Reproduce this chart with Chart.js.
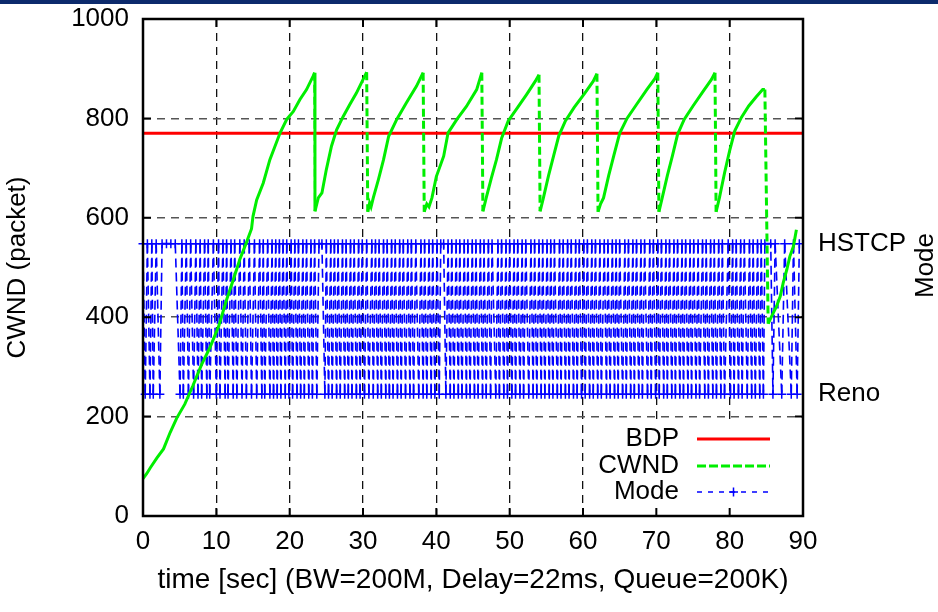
<!DOCTYPE html>
<html>
<head>
<meta charset="utf-8">
<script src="https://cdn.jsdelivr.net/npm/chart.js@4.4.1/dist/chart.umd.min.js"></script>
<style>
html, body { margin: 0; padding: 0; background: #fff; }
#wrap { width: 938px; height: 612px; }
</style>
</head>
<body>
<div id="wrap"><canvas id="chart" width="938" height="612"></canvas></div>
<script>
// time axis (sec) and tick steps
const xMin = 0, xMax = 90, xStep = 10;
const yMin = 0, yMax = 1000, yStep = 200;

// BDP (packets)
const bdpValue = 770;

// CWND samples (sec, packets)
const cwndTime = [
  0.0, 0.5, 1.0, 1.9, 2.8, 3.7, 4.6, 5.7, 6.8, 8.0, 9.1, 10.3, 11.4, 12.3, 13.2, 14.1, 14.8, 15.0, 15.5, 16.4,
  17.3, 18.7, 19.6, 20.5, 21.4, 22.3, 23.2, 23.4,
  23.45, 23.9, 24.4, 25.0, 25.7, 26.4, 27.3, 28.2, 29.1, 30.0, 30.5,
  30.65, 30.9, 31.1, 31.4, 32.1, 32.8, 33.5, 34.6, 35.9, 37.3, 38.2,
  38.35, 38.7, 39.0, 39.4, 40.0, 41.0, 41.6, 42.8, 44.1, 45.5, 46.2,
  46.35, 46.8, 47.5, 48.2, 48.9, 49.8, 51.0, 52.3, 53.5, 54.0,
  54.15, 54.6, 55.3, 56.0, 56.7, 57.6, 58.8, 60.2, 61.4, 61.9,
  62.05, 62.4, 62.8, 63.5, 64.2, 65.0, 66.0, 67.3, 68.7, 69.8, 70.2,
  70.35, 70.8, 71.5, 72.2, 72.9, 73.8, 75.0, 76.4, 77.5, 78.0,
  78.15, 78.6, 79.3, 80.0, 80.7, 81.6, 82.6, 83.6, 84.5, 84.8,
  85.25, 85.7, 86.4, 86.9, 87.3, 87.8, 88.2, 88.7, 89.1
];
const cwndValue = [
  75, 85, 97, 117, 135, 168, 197, 225, 262, 305, 338, 381, 435, 475, 516, 550, 578, 603, 636, 670,
  717, 771, 798, 814, 838, 858, 885, 892,
  613, 640, 650, 697, 744, 777, 804, 828, 851, 878, 893,
  612, 630, 622, 640, 677, 717, 764, 798, 831, 865, 892,
  612, 628, 622, 640, 683, 724, 771, 798, 824, 858, 892,
  613, 640, 680, 717, 760, 795, 820, 848, 875, 888,
  613, 640, 685, 725, 765, 795, 822, 850, 875, 890,
  612, 628, 640, 685, 725, 770, 800, 828, 858, 880, 892,
  612, 640, 685, 725, 768, 798, 825, 855, 878, 892,
  612, 640, 690, 735, 775, 802, 825, 843, 858, 858,
  387, 401, 422, 442, 469, 496, 522, 543, 576
];

// congestion control mode samples: 1 = HSTCP, 0 = Reno
const modeLabels = ['Reno', 'HSTCP'];
const modeLevels = [245, 548]; // where Reno / HSTCP sit on the CWND scale
const modeTime = [
  0.0, 0.3, 0.6, 0.95, 1.2, 1.4, 1.8, 2.3, 2.6, 3.2, 3.8, 4.4, 5.05, 5.3, 5.5, 5.9, 6.2, 6.5, 6.9, 7.2,
  7.5, 7.8, 8.0, 8.4, 8.7, 8.9, 9.1, 9.6, 10.0, 10.3, 10.5, 10.9, 11.2, 11.4, 11.6, 12.0, 12.3, 12.5, 12.8, 13.2,
  13.5, 13.8, 14.1, 14.5, 14.8, 15.2, 15.5, 15.9, 16.2, 16.4, 16.6, 17.0, 17.3, 17.6, 17.8,
  18.1, 18.3, 18.6, 18.8, 19.1, 19.4, 19.6, 19.9, 20.2, 20.4, 20.7, 21.0, 21.2, 21.5, 21.8, 22.0, 22.3, 22.6, 22.9, 23.1,
  23.4, 23.7, 24.0, 24.4, 24.8, 25.0, 25.3, 25.6, 25.8, 26.1, 26.4, 26.6, 26.9, 27.2, 27.5, 27.7, 28.0, 28.3, 28.5, 28.8,
  29.1, 29.4, 29.6, 29.9, 30.2, 30.5, 30.8, 31.2, 31.4, 31.7, 32.0, 32.2, 32.5, 32.8, 33.1, 33.3, 33.6, 33.9, 34.1, 34.4,
  34.7, 35.0, 35.2, 35.5, 35.8,
  36.1, 36.4, 36.6, 36.9, 37.2, 37.6, 37.9, 38.2, 38.4, 38.7, 39.0, 39.3, 39.5, 39.8, 40.1, 40.4, 40.6, 41.0, 41.3, 41.6,
  41.9, 42.1, 42.4, 42.7, 43.0, 43.2, 43.5, 43.8, 44.1, 44.3, 44.6, 44.9, 45.2, 45.4, 45.7, 46.0, 46.3, 46.5, 46.8, 47.1,
  47.4, 47.6, 48.1, 48.4, 48.6, 48.9, 49.2, 49.5, 49.7, 50.0, 50.3, 50.6, 50.8, 51.1, 51.4, 51.7, 51.9, 52.2, 52.6, 52.9,
  53.2, 53.4, 53.7,
  54.0, 54.3, 54.5, 54.8, 55.1, 55.4, 55.6, 55.9, 56.1, 56.5, 56.8, 57.0, 57.3, 57.6, 57.9, 58.1, 58.4, 58.7, 59.0, 59.2,
  59.5, 59.8, 60.1, 60.3, 60.6, 60.9, 61.2, 61.4, 61.7, 62.0, 62.3, 62.5, 62.9, 63.2, 63.4, 63.7, 64.0, 64.3, 64.5, 64.8,
  65.0, 65.4, 65.7, 65.9, 66.2, 66.5, 66.8, 67.0, 67.3, 67.6, 67.9, 68.1, 68.4, 68.8, 69.1, 69.3, 69.6, 69.9, 70.2, 70.4,
  70.7, 71.0, 71.3, 71.5, 71.8,
  72.1, 72.4, 72.6, 72.9, 73.2, 73.5, 73.7, 74.0, 74.3, 74.6, 74.8, 75.1, 75.4, 75.7, 75.9, 76.3, 76.6, 76.8, 77.1, 77.4,
  77.7, 77.9, 78.2, 78.5, 78.8, 79.0, 79.3, 79.8, 80.1, 80.4, 80.6, 80.9, 81.2, 81.5, 81.7, 82.0, 82.4, 82.7, 83.0, 83.2,
  83.5, 83.8, 84.1, 84.3, 84.6, 84.8, 85.6, 85.9, 86.2, 87.1, 87.5, 88.4, 88.7, 89.2, 89.5
];
const modeValue = [
  1, 0, 1, 0, 1, 0, 1, 0, 1, 1, 1, 1, 0, 1, 0, 1, 0, 1, 0, 1,
  0, 1, 0, 1, 0, 1, 0, 1, 0, 1, 0, 1, 0, 1, 0, 1, 0, 1, 0, 1,
  0, 1, 0, 1, 0, 1, 0, 1, 0, 1, 0, 1, 0, 1, 0,
  1, 0, 1, 0, 1, 0, 1, 0, 1, 0, 1, 0, 1, 0, 1, 0, 1, 0, 1, 0,
  1, 0, 1, 1, 0, 1, 0, 1, 0, 1, 0, 1, 0, 1, 0, 1, 0, 1, 0, 1,
  0, 1, 0, 1, 0, 1, 0, 1, 0, 1, 0, 1, 0, 1, 0, 1, 0, 1, 0, 1,
  0, 1, 0, 1, 0,
  1, 0, 1, 0, 1, 0, 1, 0, 1, 0, 1, 0, 1, 0, 1, 0, 1, 1, 0, 1,
  0, 1, 0, 1, 0, 1, 0, 1, 0, 1, 0, 1, 0, 1, 0, 1, 0, 1, 0, 1,
  0, 1, 0, 1, 0, 1, 0, 1, 0, 1, 0, 1, 0, 1, 0, 1, 0, 1, 0, 1,
  0, 1, 0,
  1, 0, 1, 0, 1, 0, 1, 0, 1, 0, 1, 0, 1, 0, 1, 0, 1, 0, 1, 0,
  1, 0, 1, 0, 1, 0, 1, 0, 1, 0, 1, 0, 1, 0, 1, 0, 1, 0, 1, 0,
  1, 0, 1, 0, 1, 0, 1, 0, 1, 0, 1, 0, 1, 0, 1, 0, 1, 0, 1, 0,
  1, 0, 1, 0, 1,
  0, 1, 0, 1, 0, 1, 0, 1, 0, 1, 0, 1, 0, 1, 0, 1, 0, 1, 0, 1,
  0, 1, 0, 1, 0, 1, 0, 1, 0, 1, 0, 1, 0, 1, 0, 1, 0, 1, 0, 1,
  0, 1, 0, 1, 0, 1, 1, 0, 1, 0, 1, 0, 1, 0, 1
];

const legendLabels = ['BDP', 'CWND', 'Mode'];
const xTitle = 'time [sec] (BW=200M, Delay=22ms, Queue=200K)';
const yTitle = 'CWND (packet)';
const y2Title = 'Mode';

const FONT = '"Liberation Sans", Arial, Helvetica, sans-serif';
const RED = '#ff0000', GREEN = '#00ee00', BLUE = '#0000ff';

Chart.defaults.font.family = FONT;
Chart.defaults.color = '#000';

// y2 range so that 0 / 1 land on the Reno / HSTCP levels of the left scale
const unit = (modeLevels[1] - modeLevels[0]) / (yMax - yMin);
const y2Min = -(modeLevels[0] - yMin) / (modeLevels[1] - modeLevels[0]);
const y2Max = y2Min + 1 / unit;

const cwndPoints = cwndTime.map((t, i) => ({ x: t, y: cwndValue[i] }));
const modePoints = modeTime.map((t, i) => ({ x: t, y: modeValue[i] }));
const bdpPoints = [{ x: xMin, y: bdpValue }, { x: xMax, y: bdpValue }];

// gnuplot-ish frame, inward ticks, opaque key, right-hand title, top bar
const decor = {
  id: 'decor',
  beforeDraw(chart) {
    const c = chart.ctx;
    c.save();
    c.fillStyle = '#fff';
    c.fillRect(0, 0, chart.width, chart.height);
    c.fillStyle = '#0c2a6c';
    c.fillRect(0, 0, chart.width, 4);
    c.restore();
  },
  afterDraw(chart) {
    const { ctx: c, chartArea: a, scales } = chart;
    c.save();

    // key box
    c.fillStyle = '#fff';
    c.fillRect(592, 424, a.right - 592, a.bottom - 424);
    c.font = '26px ' + FONT;
    c.fillStyle = '#000';
    c.textAlign = 'right';
    c.textBaseline = 'middle';
    const rows = [a.bottom - 77, a.bottom - 50, a.bottom - 24];
    const x0 = a.right - 106, x1 = a.right - 33, tx = a.right - 124;
    legendLabels.forEach((lab, i) => c.fillText(lab, tx, rows[i]));

    c.lineWidth = 3;
    c.strokeStyle = RED;
    c.beginPath(); c.moveTo(x0, rows[0]); c.lineTo(x1, rows[0]); c.stroke();
    c.strokeStyle = GREEN;
    c.setLineDash([9, 3]);
    c.beginPath(); c.moveTo(x0, rows[1]); c.lineTo(x1, rows[1]); c.stroke();
    c.strokeStyle = BLUE;
    c.lineWidth = 1.5;
    c.setLineDash([5, 6]);
    c.beginPath(); c.moveTo(x0, rows[2]); c.lineTo(x1, rows[2]); c.stroke();
    c.setLineDash([]);
    const mx = (x0 + x1) / 2;
    c.lineWidth = 1.5;
    c.beginPath();
    c.moveTo(mx - 4.5, rows[2]); c.lineTo(mx + 4.5, rows[2]);
    c.moveTo(mx, rows[2] - 4.5); c.lineTo(mx, rows[2] + 4.5);
    c.stroke();

    // inward ticks
    c.strokeStyle = '#000';
    c.lineWidth = 2;
    c.beginPath();
    scales.x.ticks.forEach(t => {
      const px = scales.x.getPixelForValue(t.value);
      c.moveTo(px, a.bottom); c.lineTo(px, a.bottom - 8);
      c.moveTo(px, a.top); c.lineTo(px, a.top + 8);
    });
    scales.y.ticks.forEach(t => {
      const py = scales.y.getPixelForValue(t.value);
      c.moveTo(a.left, py); c.lineTo(a.left + 8, py);
      c.moveTo(a.right, py); c.lineTo(a.right - 8, py);
    });
    c.stroke();

    // frame
    c.lineWidth = 2.5;
    c.strokeRect(a.left, a.top, a.right - a.left, a.bottom - a.top);

    // right axis title, reads bottom to top
    c.translate(926, (a.top + a.bottom) / 2 - 2);
    c.rotate(-Math.PI / 2);
    c.textAlign = 'center';
    c.fillText(y2Title, 0, 0);
    c.restore();
  }
};

const ctx = document.getElementById('chart');
const chart = new Chart(ctx, {
  type: 'line',
  data: {
    datasets: [
      {
        label: 'CWND',
        data: cwndPoints,
        yAxisID: 'y',
        borderColor: GREEN,
        borderWidth: 3,
        pointRadius: 0,
        tension: 0,
        segment: {
          borderDash: s => (s.p1.parsed.y < s.p0.parsed.y - 100 ? [8, 4] : [])
        }
      },
      {
        label: 'BDP',
        data: bdpPoints,
        yAxisID: 'y',
        borderColor: RED,
        borderWidth: 3,
        pointRadius: 0
      },
      {
        label: 'Mode',
        data: modePoints,
        yAxisID: 'y2',
        borderColor: BLUE,
        borderWidth: 1.6,
        borderDash: [9, 5],
        tension: 0,
        pointStyle: 'cross',
        pointRadius: 4.5,
        pointBorderWidth: 1.5,
        pointBorderColor: BLUE,
        clip: 8,
        segment: {
          borderDashOffset: s => (s.p1.parsed.y > s.p0.parsed.y ? 13.4 : 0)
        }
      }
    ]
  },
  options: {
    responsive: false,
    animation: false,
    devicePixelRatio: 1,
    layout: { padding: { top: 19, left: 0, right: 0, bottom: 0 } },
    plugins: {
      legend: { display: false },
      tooltip: { enabled: false }
    },
    scales: {
      x: {
        type: 'linear',
        min: xMin,
        max: xMax,
        ticks: { stepSize: xStep, font: { size: 26 }, padding: 10, callback: v => String(v) },
        grid: { color: '#111', lineWidth: 1.3, drawTicks: false },
        border: { display: false, dash: [8, 6] },
        title: { display: true, text: xTitle, font: { size: 28 }, padding: { top: 0, bottom: 15 } },
        afterFit: s => { s.height = 96; }
      },
      y: {
        min: yMin,
        max: yMax,
        ticks: { stepSize: yStep, font: { size: 26 }, padding: 14, callback: v => String(v) },
        grid: { color: '#555', lineWidth: 1.5, drawTicks: false },
        border: { display: false, dash: [8, 6] },
        title: { display: true, text: yTitle, font: { size: 26 }, padding: { top: 2, bottom: 0 } },
        afterFit: s => { s.width = 143; s.paddingTop = 0; s.paddingBottom = 0; }
      },
      y2: {
        position: 'right',
        min: y2Min,
        max: y2Max,
        afterBuildTicks: s => { s.ticks = [{ value: 0 }, { value: 1 }]; },
        ticks: { font: { size: 26 }, padding: 15, callback: v => modeLabels[v] },
        grid: { display: false, drawTicks: false },
        border: { display: false },
        afterFit: s => { s.width = 135; s.paddingTop = 0; s.paddingBottom = 0; }
      }
    }
  },
  plugins: [decor]
});
</script>
</body>
</html>
